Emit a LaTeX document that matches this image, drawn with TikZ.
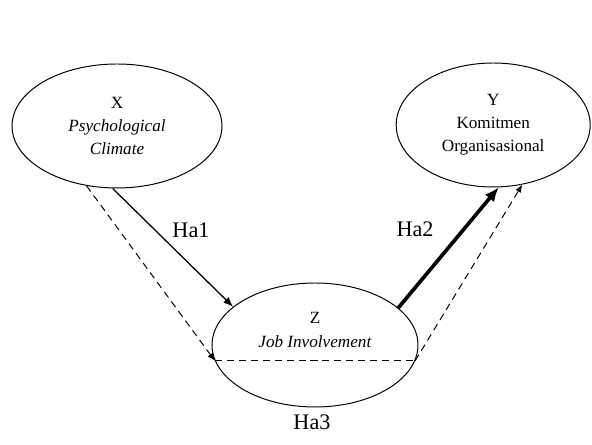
\documentclass[tikz,border=0pt]{standalone}
\usepackage{fontspec}
\setmainfont{Liberation Serif}
\usetikzlibrary{shapes.geometric,arrows.meta}

\begin{document}
\begin{tikzpicture}
	\tikzset{var/.style={draw, ellipse, line width=0.7pt, inner sep=0pt, minimum height=3.1cm, align=center, font=\fontsize{12.2}{16.5}\selectfont}}
	\tikzset{hyp/.style={font=\fontsize{15.8}{18}\selectfont}}
	\tikzset{indirect/.style={dash pattern=on 5pt off 3.5pt, line width=0.7pt}}

	\useasboundingbox (0,0) rectangle (14.8,11.125);

	\node[var, minimum width=5.25cm] (X) at (2.925,7.975) {X\\\textit{Psychological}\\\textit{Climate}};
	\node[var, minimum width=4.85cm] (Y) at (12.33,8.0) {Y\\Komitmen\\Organisasional};
	\node[var, minimum width=5.15cm, label={[align=center, font=\fontsize{12.2}{16.5}\selectfont, yshift=0.375cm]center:{Z\\\textit{Job Involvement}}}] (Z) at (7.875,2.5) {};

	\draw[line width=0.9pt, -{Latex[length=7pt,width=5.5pt]}] (X.-94) -- (Z.155);
	\draw[line width=2.6pt, -{Latex[length=10pt,width=8.5pt]}] (Z.24) -- (Y.-85);

	\draw[indirect, -{Latex[length=5.5pt,width=4.5pt]}] (X.-117) -- (Z.-171);
	\draw[indirect] (Z.-171) -- (Z.-9);
	\draw[indirect, -{Latex[length=5.5pt,width=4.5pt]}] (Z.-9) -- (Y.-64);

	\node[hyp] (ha1) at (4.775,5.375) {Ha1};
	\node[hyp] (ha2) at (10.375,5.4) {Ha2};
	\node[hyp] (ha3) at (7.8,0.575) {Ha3};
\end{tikzpicture}
\end{document}
